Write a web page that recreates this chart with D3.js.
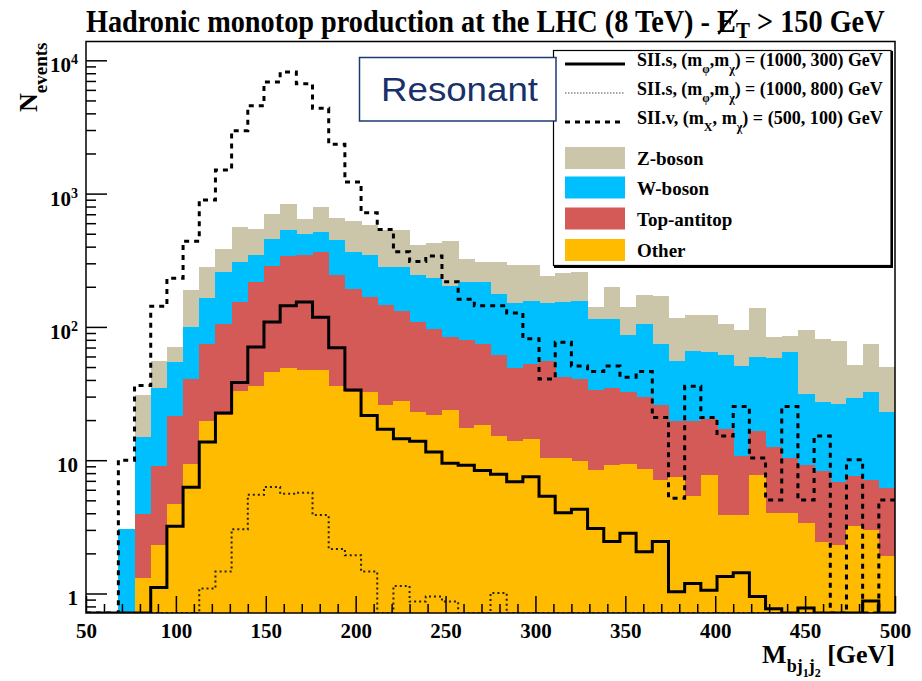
<!DOCTYPE html>
<html>
<head>
<meta charset="utf-8">
<script src="https://cdn.jsdelivr.net/npm/d3@7"></script>
<style>
  body { margin: 0; background: #fff; }
  svg { display: block; }
</style>
</head>
<body>
<svg id="chart" width="922" height="681"></svg>
<script>
// Histogram binning: 50 bins of 9 GeV between 50 and 500 GeV
const binLow = 50, binHigh = 500, binWidth = 9;

// Backgrounds (events per bin), stacked bottom to top
const other = [0,0,0,1.3,2.31,4.72,9.36,19.6,22,33,35.8,46.2,49.2,47.7,47.7,35.8,32.6,32.6,26.1,27.8,
  23,22,23.8,17.3,18.4,15.2,13.9,14.5,10.4,10.4,9.8,8.4,9.2,9.3,8.6,7.1,7.5,5.4,7.8,3.9,
  3.9,7.8,4.0,4.0,3.4,2.45,2.3,3.2,3.0,1.9];
const ttbar = [0,0,0,2.65,6.7,16.6,31.3,54.7,83,121,182,238,291,296,314,211,161,136,121,103,
  86,73.7,60.5,62.9,55.9,46.2,35.3,37.9,45.4,31.6,30.9,25.2,25.5,23.3,21.0,19.0,12.1,14.2,12.4,13.3,
  6.8,8.9,8.6,6.4,5.74,5.86,4.57,4.36,4.1,4.34];
const wboson = [0,0,3.07,11.05,25.7,32.8,58.7,89.7,155,155,126,174,189,153,151,205,168,175,134,150,
  138,136,118,138,144,114,102,105,95,112,116,82,79,54.4,75.4,48.2,36.2,45.8,45.0,43.9,
  40.6,42.6,45.5,54.0,22.3,18.9,19.6,21.9,25.4,16.7];
const zboson = [0,0,0,16.0,21.1,16.5,88.6,117,125,248,202,246,306,143,275,209,266,238,248,248,
  163,192,235,105,91,134,139,133,89,101,101,26,87,55,70,97,60,57,58,44,
  44,79,26,20.6,63.9,54.1,51.3,22.7,41.4,26.7];

// Signal benchmarks (events per bin)
const sigS300 = [0,0,0,0,1.11,3.19,6.28,13.7,22.6,38.2,70.6,109,144,154,118,69.7,33.6,21.6,17.1,14.5,
  13.9,11.5,9.48,9.18,8.36,7.84,6.9,7.5,5.36,4.03,4.29,3.08,2.45,2.83,2.06,2.45,1.03,1.19,1.06,1.34,
  1.43,0.95,0.77,0,0.78,0,0,0,0.88,0];
const sigS800 = [0,0,0,0,0,0,0,1.09,1.46,3.03,5.5,6.3,5.6,5.7,3.88,2.16,1.94,1.46,0,1.14,
  0.87,0.95,0.87,0,0,1.01,0,0,0,0,0,0,0,0,0,0,0,0,0,0,
  0,0,0,0,0,0,0,0,0,0];
const sigV100 = [0,0,10,36.3,143,232,440,895,1506,2963,4560,6885,8170,6670,4360,2344,1221,717,539,366,
  309,340,218,161,144,144,127,81.6,40.7,76.6,50.8,46.2,50.8,42.0,46.2,20.9,5.19,35.8,20.9,15.2,
  25.3,10.4,5.03,25.3,5.03,15.2,0,10.1,0,5.03];

// Axis ranges and ticks
const yMin = 0.714, yMax = 13840;
const xMajor = [50,100,150,200,250,300,350,400,450,500];
const yMajor = [1,10,100,1000,10000];

const bgKeys = ['other','ttbar','wboson','zboson'];
const bgColor = { zboson: '#cbc5a9', wboson: '#00bfff', ttbar: '#d45a57', other: '#ffbb00' };

const serif = "'Liberation Serif','Times New Roman',Times,serif";
const sans = "'Liberation Sans',Arial,Helvetica,sans-serif";

const svg = d3.select('#chart');
const plot = { left: 86, right: 895, top: 41.5, bottom: 613 };

const x = d3.scaleLinear().domain([binLow, binHigh]).range([plot.left, plot.right]);
const y = d3.scaleLog().domain([yMin, yMax]).range([plot.bottom, plot.top]);

const edges = d3.range(binLow, binHigh, binWidth);
const rows = edges.map((lo, i) => ({
  lo, hi: lo + binWidth,
  other: other[i], ttbar: ttbar[i], wboson: wboson[i], zboson: zboson[i]
}));
const series = d3.stack().keys(bgKeys)(rows);

svg.append('defs').append('clipPath').attr('id', 'plotClip')
  .append('rect')
  .attr('x', plot.left).attr('y', plot.top)
  .attr('width', plot.right - plot.left).attr('height', plot.bottom - plot.top);

const content = svg.append('g').attr('clip-path', 'url(#plotClip)');

// Stacked backgrounds: each cumulative layer filled from the floor, top layer first
series.slice().reverse().forEach(s => {
  content.append('g')
    .attr('fill', bgColor[s.key])
    .attr('shape-rendering', 'crispEdges')
    .selectAll('rect')
    .data(s.filter(d => d[1] > yMin))
    .join('rect')
    .attr('x', d => x(d.data.lo))
    .attr('width', d => x(d.data.hi) - x(d.data.lo) + 0.5)
    .attr('y', d => y(d[1]))
    .attr('height', d => plot.bottom - y(d[1]));
});

// Signal outlines as step lines
const stepLine = d3.line()
  .x(d => x(d[0]))
  .y(d => d[1] > yMin ? y(d[1]) : plot.bottom)
  .curve(d3.curveStepAfter);
function stepPoints(vals) {
  const pts = edges.map((e, i) => [e, vals[i]]);
  pts.push([binHigh, vals[vals.length - 1]]);
  return pts;
}
const sigStyles = [
  { vals: sigS800, width: 2, dash: '2,3', color: '#222' },
  { vals: sigS300, width: 3, dash: null, color: '#000' },
  { vals: sigV100, width: 3, dash: '5,5', color: '#000' }
];
sigStyles.forEach(st => {
  content.append('path')
    .attr('d', stepLine(stepPoints(st.vals)))
    .attr('fill', 'none')
    .attr('stroke', st.color)
    .attr('stroke-width', st.width)
    .attr('stroke-dasharray', st.dash)
    .attr('stroke-linejoin', 'miter');
});

// Axes with inward ticks
const xMinor = d3.range(60, 500, 10).filter(v => v % 50 !== 0);
const xAxisMajor = d3.axisBottom(x).tickValues(xMajor).tickSizeInner(-17).tickSizeOuter(0).tickPadding(10);
const xAxisMinor = d3.axisBottom(x).tickValues(xMinor).tickSizeInner(-9).tickSizeOuter(0).tickFormat('');
const gxMin = svg.append('g').attr('transform', `translate(0,${plot.bottom})`).call(xAxisMinor);
const gxMaj = svg.append('g').attr('transform', `translate(0,${plot.bottom})`).call(xAxisMajor);
[gxMin, gxMaj].forEach(g => {
  g.select('.domain').remove();
  g.selectAll('line').attr('stroke', '#000').attr('stroke-width', 1.5);
});
gxMaj.selectAll('text')
  .attr('font-family', serif).attr('font-weight', 'bold').attr('font-size', 21).attr('fill', '#000');

const yMinor = [];
for (let n = -1; n <= 4; n++) for (let k = 2; k <= 9; k++) {
  const v = k * Math.pow(10, n);
  if (v > yMin && v < yMax) yMinor.push(v);
}
const yAxisMajor = d3.axisLeft(y).tickValues(yMajor).tickSizeInner(-21).tickSizeOuter(0).tickFormat('');
const yAxisMinor = d3.axisLeft(y).tickValues(yMinor).tickSizeInner(-10).tickSizeOuter(0).tickFormat('');
const gyMin = svg.append('g').attr('transform', `translate(${plot.left},0)`).call(yAxisMinor);
const gyMaj = svg.append('g').attr('transform', `translate(${plot.left},0)`).call(yAxisMajor);
[gyMin, gyMaj].forEach(g => {
  g.select('.domain').remove();
  g.selectAll('line').attr('stroke', '#000').attr('stroke-width', 1.5);
});
gyMaj.selectAll('.tick').each(function (v) {
  const g = d3.select(this);
  g.select('text').remove();
  const n = Math.round(Math.log10(v));
  const t = g.append('text')
    .attr('x', -8).attr('y', 11.5).attr('text-anchor', 'end')
    .attr('font-family', serif).attr('font-weight', 'bold').attr('font-size', 21).attr('fill', '#000');
  if (n < 2) {
    t.text(String(v));
  } else {
    t.append('tspan').text('10');
    t.append('tspan').attr('dy', -8).attr('font-size', 14).text(String(n));
  }
});

// Frame
svg.append('rect')
  .attr('x', plot.left).attr('y', plot.top)
  .attr('width', plot.right - plot.left).attr('height', plot.bottom - plot.top)
  .attr('fill', 'none').attr('stroke', '#000').attr('stroke-width', 1.5);

// Places a text group at x0 and squeezes it horizontally to the given width
function fitWidth(g, textNode, x0, width) {
  const w = textNode.getComputedTextLength();
  g.attr('transform', `translate(${x0},0) scale(${width / w},1)`);
}

// Title (missing transverse energy written as a slashed E)
const titleG = svg.append('g');
const title = titleG.append('text')
  .attr('x', 0).attr('y', 32)
  .attr('font-family', serif).attr('font-weight', 'bold').attr('font-size', 31).attr('fill', '#000');
const titleHead = 'Hadronic monotop production at the LHC (8 TeV) - ';
title.append('tspan').text(titleHead + 'E');
title.append('tspan').attr('dy', 6).attr('font-size', 23).text('T');
title.append('tspan').attr('dy', -6).text(' > 150 GeV');
{
  const ext = title.node().getExtentOfChar(titleHead.length);
  titleG.append('line')
    .attr('x1', ext.x + 1).attr('y1', 34)
    .attr('x2', ext.x + ext.width + 1).attr('y2', 10)
    .attr('stroke', '#000').attr('stroke-width', 2.4);
}
fitWidth(titleG, title.node(), 86, 799);

// Axis titles
const xTitle = svg.append('text')
  .attr('x', 895).attr('y', 663).attr('text-anchor', 'end')
  .attr('font-family', serif).attr('font-weight', 'bold').attr('font-size', 26).attr('fill', '#000');
xTitle.append('tspan').text('M');
xTitle.append('tspan').attr('dy', 9).attr('font-size', 18).text('bj');
xTitle.append('tspan').attr('dy', 5).attr('font-size', 12).text('1');
xTitle.append('tspan').attr('dy', -5).attr('font-size', 18).text('j');
xTitle.append('tspan').attr('dy', 5).attr('font-size', 12).text('2');
xTitle.append('tspan').attr('dy', -14).attr('font-size', 26).text(' [GeV]');

const yTitle = svg.append('text')
  .attr('transform', 'translate(37,112) rotate(-90)')
  .attr('font-family', serif).attr('font-weight', 'bold').attr('font-size', 26).attr('fill', '#000');
yTitle.append('tspan').text('N');
yTitle.append('tspan').attr('dy', 9.5).attr('font-size', 19).text('events');

// Legend
const legend = svg.append('g');
legend.append('rect')
  .attr('x', 553.5).attr('y', 50.5).attr('width', 337.5).attr('height', 215)
  .attr('fill', '#fff').attr('stroke', '#000').attr('stroke-width', 1.2);
legend.append('path')
  .attr('d', 'M892,51 V267 H554')
  .attr('fill', 'none').attr('stroke', '#000').attr('stroke-width', 2);

const lineEntries = [
  { y: 64, width: 3, dash: null, color: '#000',
    parts: [['SII.s, (m'], ['φ', 1], [',m'], ['χ', 1], [') = (1000, 300) GeV']] },
  { y: 93, width: 1.5, dash: '1.5,1.5', color: '#8a8a8a',
    parts: [['SII.s, (m'], ['φ', 1], [',m'], ['χ', 1], [') = (1000, 800) GeV']] },
  { y: 122, width: 3, dash: '5,5', color: '#000',
    parts: [['SII.v, (m'], ['X', 1], [', m'], ['χ', 1], [') = (500, 100) GeV']] }
];
lineEntries.forEach(e => {
  legend.append('line')
    .attr('x1', 565).attr('x2', 625).attr('y1', e.y).attr('y2', e.y)
    .attr('stroke', e.color).attr('stroke-width', e.width).attr('stroke-dasharray', e.dash);
  const g = legend.append('g');
  const t = g.append('text')
    .attr('x', 0).attr('y', e.y + 2.5)
    .attr('font-family', serif).attr('font-weight', 'bold').attr('font-size', 19.5).attr('fill', '#000');
  let shifted = false;
  e.parts.forEach(([s, sub]) => {
    const ts = t.append('tspan').text(s);
    if (sub && !shifted) { ts.attr('dy', 7).attr('font-size', 13); shifted = true; }
    else if (!sub && shifted) { ts.attr('dy', -7); shifted = false; }
    else if (sub) ts.attr('font-size', 13);
  });
  fitWidth(g, t.node(), 637, 246);
});

const fillEntries = [
  { key: 'zboson', label: 'Z-boson', y: 158 },
  { key: 'wboson', label: 'W-boson', y: 187.5 },
  { key: 'ttbar', label: 'Top-antitop', y: 218.5 },
  { key: 'other', label: 'Other', y: 250 }
];
fillEntries.forEach(e => {
  legend.append('rect')
    .attr('x', 565).attr('y', e.y - 11).attr('width', 60).attr('height', 22)
    .attr('fill', bgColor[e.key]);
  legend.append('text')
    .attr('x', 637).attr('y', e.y + 7)
    .attr('font-family', serif).attr('font-weight', 'bold').attr('font-size', 19).attr('fill', '#000')
    .text(e.label);
});

// Annotation box
svg.append('rect')
  .attr('x', 359.5).attr('y', 57.5).attr('width', 196.5).attr('height', 63.5)
  .attr('fill', '#fff').attr('stroke', '#1f3870').attr('stroke-width', 1.5);
svg.append('text')
  .attr('x', 381).attr('y', 100.5)
  .attr('font-family', sans).attr('font-size', 34).attr('fill', '#1a3068')
  .attr('textLength', 157).attr('lengthAdjust', 'spacingAndGlyphs')
  .text('Resonant');
</script>
</body>
</html>
